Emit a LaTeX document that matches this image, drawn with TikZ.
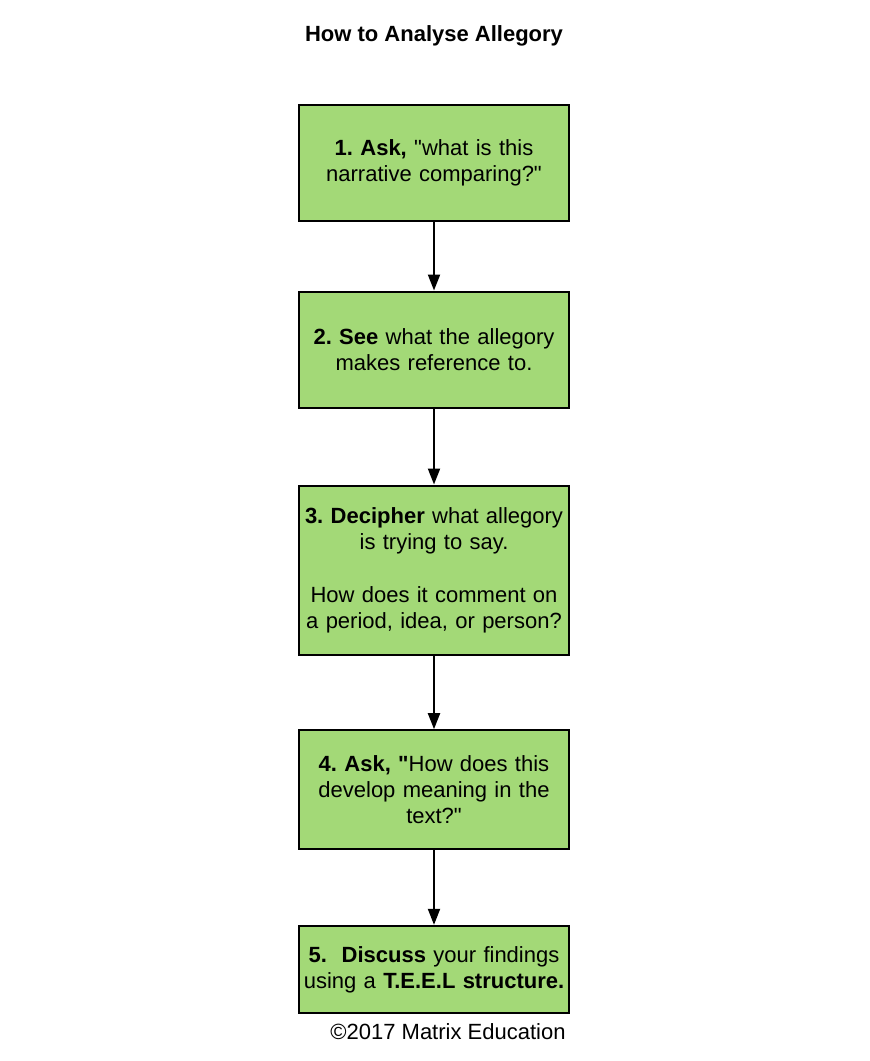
\documentclass[tikz,border=0pt]{standalone}
\usepackage{fontspec}
\setmainfont{Liberation Sans}[Ligatures=TeXOff]
\usetikzlibrary{arrows.meta}
\definecolor{stepgreen}{HTML}{A3D977}
\frenchspacing
\begin{document}
\begin{tikzpicture}[x=0.75pt,y=-0.75pt]
\tikzstyle{every node}+=[font=\fontsize{16.5}{19.5}\selectfont]
\tikzstyle{stepbox}=[draw=black, fill=stepgreen, line width=1.5pt, minimum width=202.5pt, text width=198pt, align=center, inner sep=1pt]
\tikzstyle{link}=[line width=1.5pt, -{Triangle[width=9pt,length=12pt]}]
\useasboundingbox (0,0) rectangle (870,1061);
\node[font=\bfseries\fontsize{16.5}{19.5}\selectfont] (title) at (434,35.5) {How to Analyse Allegory};
\node[stepbox, minimum height=87pt] (ask) at (434,162.5) {\textbf{1. Ask,} "what is this\\narrative comparing?"};
\node[stepbox, minimum height=87pt] (see) at (434,349.5) {\textbf{2. See} what the allegory\\makes reference to.};
\node[stepbox, minimum height=126.75pt] (decipher) at (434,570) {\textbf{3. Decipher} what allegory\\is trying to say.\\[20pt]How does it comment on\\a period, idea, or person?};
\node[stepbox, minimum height=89pt] (meaning) at (434,789.5) {\textbf{4. Ask, "}How does this\\develop meaning in the\\text?"};
\node[stepbox, minimum height=65.5pt] (discuss) at (434,969.5) {\textbf{5.\ \ Discuss} your findings\\using a \textbf{T.E.E.L structure.}};
\node (credit) at (448,1032) {©2017 Matrix Education};
\draw[link] (ask) -- (see);
\draw[link] (see) -- (decipher);
\draw[link] (decipher) -- (meaning);
\draw[link] (meaning) -- (discuss);
\end{tikzpicture}
\end{document}
